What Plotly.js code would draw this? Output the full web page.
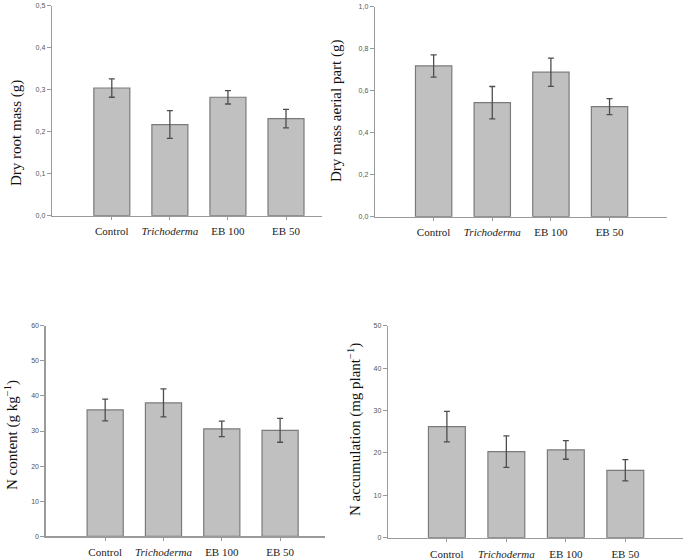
<!DOCTYPE html>
<html><head><meta charset="utf-8">
<script src="https://cdn.plot.ly/plotly-3.0.1.min.js"></script>
<style>html,body{margin:0;padding:0;background:#fff}</style>
</head><body>
<div id="chart" style="width:685px;height:560px"></div>
<script>
const categories = ["Control", "Trichoderma", "EB 100", "EB 50"];
const tickLabels = ["Control", "<i>Trichoderma</i>", "EB 100", "EB 50"];

const rootMass = [0.304, 0.217, 0.282, 0.231];
const rootMassErr = [0.022, 0.033, 0.016, 0.022];

const aerialMass = [0.718, 0.543, 0.688, 0.524];
const aerialMassErr = [0.053, 0.077, 0.067, 0.038];

const nContent = [36.0, 38.0, 30.6, 30.2];
const nContentErr = [3.1, 4.0, 2.2, 3.4];

const nAccum = [26.2, 20.3, 20.7, 15.9];
const nAccumErr = [3.6, 3.7, 2.2, 2.5];

const W = 685, H = 560;
function px(x){ return x / W; }
function py(y){ return 1 - y / H; }

function barTrace(vals, errs, xa, ya){
  return {
    type: 'bar', x: categories, y: vals, xaxis: xa, yaxis: ya, width: 0.62,
    marker: {color: '#c0c0c0', line: {color: '#7a7a7a', width: 1.2}},
    error_y: {type: 'data', array: errs, visible: true, color: '#4d4d4d', thickness: 1.3, width: 3},
    showlegend: false, hoverinfo: 'skip'
  };
}

const data = [
  barTrace(rootMass, rootMassErr, 'x', 'y'),
  barTrace(aerialMass, aerialMassErr, 'x2', 'y2'),
  barTrace(nContent, nContentErr, 'x3', 'y3'),
  barTrace(nAccum, nAccumErr, 'x4', 'y4')
];

function xAxis(d0, d1, anchor, r, standoff){
  return {
    domain: [px(d0), px(d1)], anchor: anchor, type: 'category',
    range: r, tickvals: categories, ticktext: tickLabels,
    showline: true, linecolor: '#9a9a9a', linewidth: 1.3,
    ticks: 'outside', ticklen: 3, tickcolor: '#9a9a9a',
    showgrid: false, zeroline: false, fixedrange: true,
    tickfont: {family: 'Liberation Serif, serif', size: 11, color: '#222'},
    ticklabelstandoff: standoff
  };
}
function yAxis(t0, t1, anchor, r, dtick, fmt){
  return {
    domain: [py(t1), py(t0)], anchor: anchor, range: r, dtick: dtick, tick0: 0,
    tickformat: fmt, showline: true, linecolor: '#9a9a9a', linewidth: 1.3,
    ticks: 'outside', ticklen: 4, tickcolor: '#9a9a9a',
    showgrid: false, zeroline: false, fixedrange: true,
    tickfont: {family: 'Liberation Sans, Arial, sans-serif', size: 7, color: '#555'}
  };
}

const layout = {
  width: W, height: H, margin: {l: 0, r: 0, t: 0, b: 0},
  paper_bgcolor: '#fff', plot_bgcolor: '#fff', separators: ',.',
  bargap: 0.38,
  xaxis: xAxis(52, 322, 'y', [-1.03, 3.62], 2),
  yaxis: yAxis(5.7, 215.7, 'x', [0, 0.5], 0.1, '.1f'),
  xaxis2: xAxis(375, 667, 'y2', [-1.0, 3.98], 2),
  yaxis2: yAxis(6.7, 216.7, 'x2', [0, 1.0], 0.2, '.1f'),
  xaxis3: xAxis(45.7, 325, 'y3', [-1.02, 3.77], 2),
  yaxis3: yAxis(325.7, 536.3, 'x3', [0, 60], 10, 'd'),
  xaxis4: xAxis(388, 683, 'y4', [-0.99, 3.97], 3),
  yaxis4: yAxis(325.7, 537.7, 'x4', [0, 50], 10, 'd'),
  annotations: [
    {text: 'Dry root mass (g)', x: px(16), y: py(133)},
    {text: 'Dry mass aerial part (g)', x: px(337), y: py(111)},
    {text: 'N content (g kg<sup>−1</sup>)', x: px(11), y: py(435)},
    {text: 'N accumulation (mg plant<sup>−1</sup>)', x: px(354), y: py(430)}
  ].map(a => Object.assign({
    xref: 'paper', yref: 'paper', showarrow: false, textangle: -90,
    xanchor: 'center', yanchor: 'middle',
    font: {family: 'Liberation Serif, serif', size: 15, color: '#111'}
  }, a))
};

Plotly.newPlot('chart', data, layout, {staticPlot: true, displayModeBar: false});
</script>
</body></html>
